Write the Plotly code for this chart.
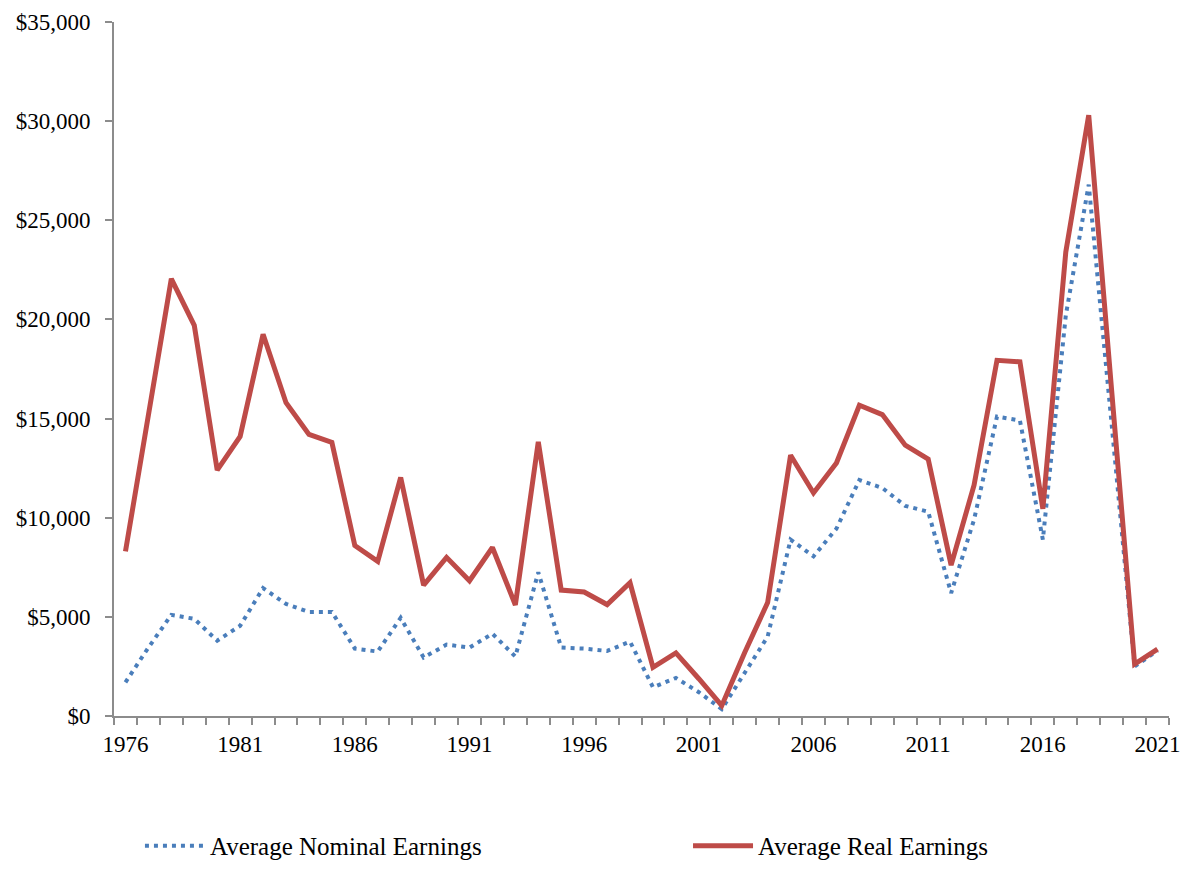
import plotly.graph_objects as go

years = list(range(1976, 2022))

nominal_earnings = [
    1700, 3450, 5100, 4900, 3800, 4550, 6450, 5650, 5250, 5250,
    3400, 3250, 4950, 2950, 3600, 3450, 4150, 3000, 7250, 3450,
    3400, 3280, 3750, 1450, 1920, 1200, 350, 2150, 4000, 8900,
    8050, 9450, 11900, 11500, 10600, 10300, 6200, 9900, 15100, 14900,
    8900, 20200, 26800, 14700, 2500, 3300,
]

real_earnings = [
    8300, 15200, 22050, 19700, 12400, 14100, 19250, 15800, 14200, 13800,
    8600, 7800, 12030, 6600, 8000, 6820, 8500, 5600, 13830, 6350,
    6250, 5620, 6720, 2450, 3180, 1880, 520, 3200, 5720, 13150,
    11250, 12760, 15670, 15200, 13660, 12960, 7610, 11640, 17940, 17860,
    10450, 23400, 30300, 16400, 2620, 3370,
]

tick_years = [1976, 1981, 1986, 1991, 1996, 2001, 2006, 2011, 2016, 2021]

font_family = "Liberation Serif, DejaVu Serif, serif"
axis_grey = "#8c8c8c"

fig = go.Figure()
fig.add_trace(go.Scatter(
    x=years, y=nominal_earnings, mode="lines",
    name="Average Nominal Earnings", legend="legend",
    line=dict(color="#4a7ebb", width=4, dash="4px,5px"),
))
fig.add_trace(go.Scatter(
    x=years, y=real_earnings, mode="lines",
    name="Average Real Earnings", legend="legend2",
    line=dict(color="#be4b48", width=5),
))

legend_common = dict(
    orientation="h", y=-0.1873, yanchor="middle", xanchor="left",
    font=dict(family=font_family, size=25, color="black"),
    itemwidth=60, bgcolor="rgba(0,0,0,0)",
)

fig.update_layout(
    width=1173, height=853,
    margin=dict(l=106, r=12, t=14, b=145, autoexpand=False),
    paper_bgcolor="white", plot_bgcolor="white",
    font=dict(family=font_family, size=23, color="black"),
    showlegend=True,
    legend=dict(x=0.0246, **legend_common),
    legend2=dict(x=0.5441, **legend_common),
    xaxis=dict(
        range=[1975.5, 2021.5],
        tickmode="array", tickvals=tick_years,
        ticktext=[str(y) for y in tick_years],
        ticks="outside", ticklen=0, tickcolor=axis_grey,
        showline=True, linecolor=axis_grey, linewidth=2,
        showgrid=False, zeroline=False, automargin=False,
        minor=dict(tickmode="linear", tick0=1975.5, dtick=1,
                   ticks="outside", ticklen=7, tickcolor=axis_grey,
                   tickwidth=1.5, showgrid=False),
        tickfont=dict(size=23),
        ticklabelstandoff=6,
    ),
    yaxis=dict(
        range=[0, 35000],
        tickmode="linear", tick0=0, dtick=5000,
        tickprefix="$", tickformat=",",
        ticks="outside", ticklen=7, tickcolor=axis_grey, tickwidth=1.5,
        showline=True, linecolor=axis_grey, linewidth=2,
        showgrid=False, zeroline=False, automargin=False,
        tickfont=dict(size=23),
        ticklabelstandoff=10,
    ),
)

fig.write_html("out.html")
